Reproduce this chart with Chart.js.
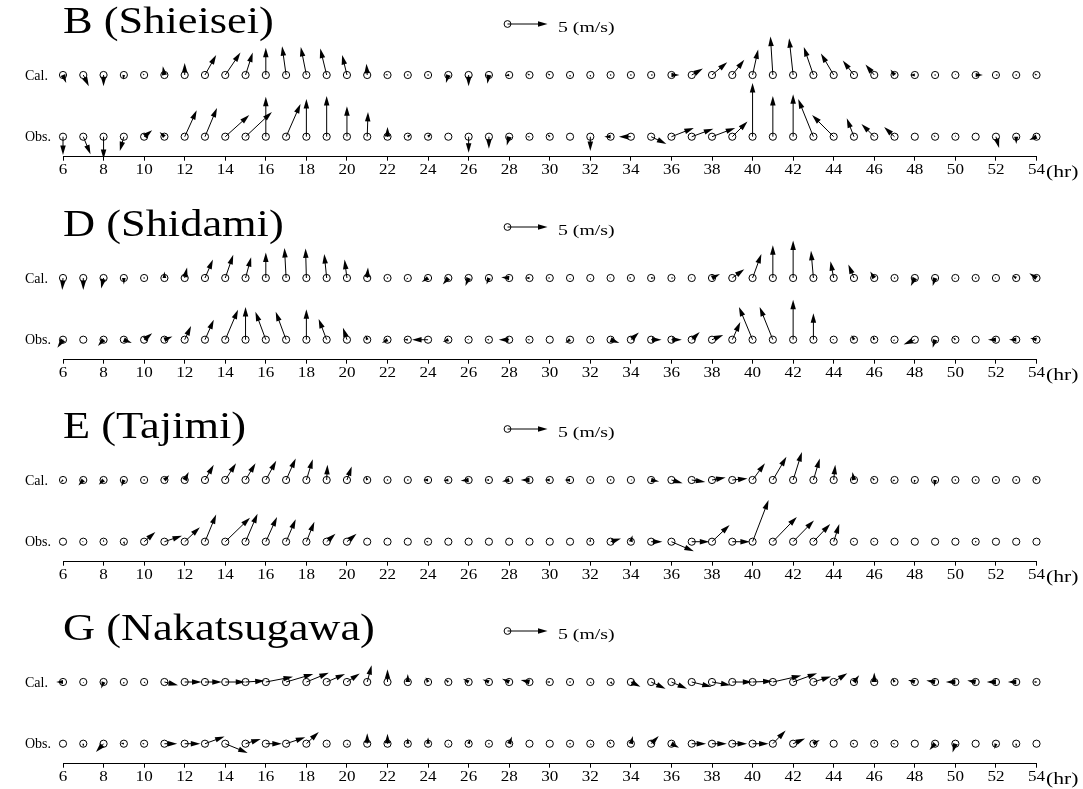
<!DOCTYPE html>
<html>
<head>
<meta charset="utf-8">
<title>Hourly wind vectors: calculated vs observed</title>
<script src="https://cdn.jsdelivr.net/npm/chart.js@4.4.1/dist/chart.umd.min.js"></script>
<style>
  html, body { margin: 0; padding: 0; background: #fff; overflow: hidden; }
  body { width: 1083px; height: 789px; position: relative; }
  canvas { position: absolute; left: 0; }
</style>
</head>
<body>
<script>
// Hours on the time axis
const hours = [6,7,8,9,10,11,12,13,14,15,16,17,18,19,20,21,22,23,24,25,26,27,28,29,30,
               31,32,33,34,35,36,37,38,39,40,41,42,43,44,45,46,47,48,49,50,51,52,53,54];
const hourTicks = [6,8,10,12,14,16,18,20,22,24,26,28,30,32,34,36,38,40,42,44,46,48,50,52,54];

// Wind components (m/s): u = eastward, v = northward
// B (Shieisei)
const bCalU = [0.4,0.7,0,-0.1,-0.2,-0.2,0,1.4,1.9,0.9,0,-0.5,-0.7,-0.8,-0.6,-0.1,-0.3,0,0.1,-0.3,0,-0.2,-0.5,-0.3,-0.3,
               0,0,0,0,0.3,1.0,1.4,1.9,1.5,0.7,-0.3,-0.5,-1.2,-1.6,-1.4,-1.1,-0.5,-0.6,0,0,0.9,0.3,0,-0.3];
const bCalV = [-1.0,-1.4,-1.4,-0.6,0.2,1.1,1.5,2.5,2.8,2.8,3.4,3.6,3.5,3.3,2.5,1.4,0.1,0.1,0.1,-1.0,-1.4,-1.1,-0.1,0.2,0.2,
               -0.3,-0.3,0.1,0.1,0,0,0.8,1.6,1.9,3.2,4.8,4.6,3.5,2.7,1.8,1.3,0.7,0,0.1,0.2,0,0,0.1,0.2];
const bObsU = [0,0.9,0,-0.5,1.0,-0.6,1.5,1.5,3.0,3.3,0,1.8,0,0,0,0.1,0,0.4,0.4,0,0,0,-0.3,-0.3,-0.3,
               0,0,-0.8,-1.5,1.9,2.8,2.7,2.9,1.9,0,0,0,-1.9,-2.7,-0.9,-1.6,-1.3,0,-0.2,0,0,0.4,0,-0.9];
const bObsV = [-2.3,-2.2,-2.8,-1.8,0.8,0.6,3.3,3.6,2.7,3.1,5.0,4.1,4.7,5.1,3.8,3.1,1.2,0.3,0.4,0,-2.0,-1.5,-1.1,0,0.3,
               0,-1.8,0,0,-0.9,1.1,1.0,1.1,1.9,6.7,5.1,5.3,4.7,2.7,2.3,1.6,1.2,0,0.2,0.2,0,-1.4,-0.9,-0.4];

// D (Shidami)
const dCalU = [-0.1,0,-0.3,0,0,0,0.3,1.0,1.0,0.7,0,-0.2,-0.1,-0.3,-0.3,0.1,0,-0.2,-0.8,-0.7,-0.4,-0.3,-1.0,-0.5,-0.3,
               0,0,-0.2,-0.3,0.4,0.3,-0.2,1.0,1.5,1.1,0,0,-0.3,-0.4,-0.7,-0.5,0,-0.5,-0.3,-0.2,0,-0.2,-0.5,-0.9];
const dCalV = [-1.5,-1.5,-1.3,-0.8,0.1,0.8,1.3,2.3,2.9,2.6,3.2,3.75,3.7,3.0,2.3,1.3,0.1,-0.2,-0.5,-0.8,-1.0,-0.8,0.1,0,0,
               -0.2,-0.2,0,0,0,0,0,0.5,1.1,3.0,4.1,4.7,3.4,2.1,1.7,0.8,0.1,-1.0,-1.0,-0.1,0.1,0,0.3,0.6];
const dObsU = [-0.7,0,-0.7,1.0,1.0,1.0,0.8,1.1,1.6,0,-1.3,-1.3,0,-1.0,-0.5,-0.2,-0.7,-0.5,-2.0,-0.7,-0.2,-0.3,-1.3,-0.3,0,
               -0.6,0.1,1.1,1.0,1.3,1.3,1.0,1.4,1.0,-1.7,-1.65,0,0,-0.2,-0.3,-0.2,-0.2,-1.4,-0.3,-0.3,0,-1.0,-0.9,-0.8];
const dObsV = [-1.0,0,-0.8,-0.4,0.8,0.4,1.7,2.5,3.75,4.1,3.5,3.5,3.8,2.6,1.5,0.6,-0.4,0,0,-0.3,0.1,0,0,0,0,
               -0.4,0.2,-0.4,0.9,0,0,0.95,0.6,2.2,4.1,4.1,5.0,3.3,0.1,0.6,0.5,-0.2,-0.6,-1.0,0.3,0,0,0,0.2];

// E (Tajimi)
const eCalU = [-0.3,-0.6,-0.6,-0.3,0,0.6,0.5,1.1,1.35,1.25,1.3,1.2,0.8,0.1,0.6,-0.2,0,0,-0.6,-0.6,-1.0,-0.4,-0.9,-1.1,-0.6,
               -0.7,0,0,0.2,1.0,1.4,1.7,1.7,1.9,1.55,1.7,1.1,0.8,0.2,-0.2,-0.3,-0.3,-0.1,-0.1,0,0,0.1,0,-0.3];
const eCalV = [-0.3,-0.7,-0.6,-0.8,0.1,0.6,1.0,1.9,2.1,2.1,2.4,2.7,2.6,1.9,1.7,0.5,0.1,0.1,0,-0.1,-0.1,0,-0.2,0,0,
               0,0.1,0.1,0,-0.2,-0.4,-0.25,0.3,0.2,2.1,2.9,3.5,2.7,1.9,1.0,0.3,-0.2,-0.4,-0.8,0.1,0.1,0,0.1,0.3];
const eObsU = [0,-0.2,0,0.1,1.4,2.2,1.9,1.4,3.1,1.5,1.4,1.2,1.0,1.1,1.2,0,0,0,-0.3,0,0,0,0,0,0,
               0,0,1.3,0.2,1.4,2.8,2.2,2.2,2.2,2.0,3.0,2.6,2.1,0.7,-0.2,-0.2,0,0,0,0,0.1,0,0,0];
const eObsV = [0,0,0.3,-0.4,1.2,0.75,1.8,3.4,3.0,3.5,3.1,2.8,2.5,1.0,1.0,0,0,0,0,0,0,0,0,0,0,
               0,0.4,0.4,0.8,0,-1.2,0,2.1,0,5.2,3.1,2.65,2.2,2.2,0.1,0.1,0,0,0,0,0.1,0,0,0];

// G (Nakatsugawa)
const gCalU = [-0.85,0,-0.3,0,0.2,1.7,2.1,2.1,2.5,2.4,3.4,3.4,2.8,2.3,1.6,0.55,0,0,-0.3,-0.4,-0.7,-0.8,-0.9,-1.1,-0.4,
               0,0.2,0.3,1.2,1.8,1.95,2.5,2.3,2.5,2.5,3.55,3.0,2.2,1.7,0.65,0,-0.3,-0.85,-1.1,-1.2,-1.05,-1.15,-1.05,-0.4];
const gCalV = [0,-0.2,-0.8,-0.3,-0.2,-0.4,0,0,0,0.15,0.65,1.0,1.15,1.0,1.05,2.1,1.6,1.0,0.6,0.3,0.4,0.3,0.4,0.25,0,
               0.1,-0.2,-0.3,-0.6,-0.85,-0.85,-0.6,-0.4,0,0.1,0.8,1.1,0.7,1.1,0.85,1.2,0.5,0.25,0.2,0,0.2,0,0,0];
const gObsU = [0,0,-0.95,-0.4,-0.3,1.6,1.95,2.45,2.8,1.9,2.0,2.4,1.55,0.2,0.2,0,0,0,0,0,0.2,0,0.35,0,0,
               0.1,0.2,-0.2,0.25,0.95,0.95,1.8,1.85,1.85,2.0,1.6,1.5,0.8,0,-0.3,0,-0.3,0,-0.7,-0.35,0,-0.2,0,0];
const gObsV = [0,-0.4,-1.05,0.1,0,0,0,0.9,-1.15,0.6,0,0.8,1.45,-0.1,-0.2,1.3,1.25,0.7,0.8,-0.2,0.6,0.1,0.9,0,0,
               -0.1,-0.2,0.3,0.95,0.95,-0.5,0,0,0,0,1.65,0.65,0.45,0,0,0.3,0,0,-0.8,-1.1,0,-0.65,-0.4,0];

const panels = [
  { title: 'B (Shieisei)',    calU: bCalU, calV: bCalV, obsU: bObsU, obsV: bObsV },
  { title: 'D (Shidami)',     calU: dCalU, calV: dCalV, obsU: dObsU, obsV: dObsV },
  { title: 'E (Tajimi)',      calU: eCalU, calV: eCalV, obsU: eObsU, obsV: eObsV },
  { title: 'G (Nakatsugawa)', calU: gCalU, calV: gCalV, obsU: gObsU, obsV: gObsV }
];

// Layout
const PANEL_TOPS = [0, 203, 405, 607];
const PANEL_H = 203;
const HOURS_PER_MS = 0.3945;   // 1 m/s of wind spans this many hours along the time axis
const HEAD_LEN = 9.5;
const SERIF = "'Liberation Serif', 'Times New Roman', serif";

function stretchedText(ctx, text, x, y, size, sx, align) {
  ctx.save();
  ctx.font = size + 'px ' + SERIF;
  ctx.fillStyle = '#000';
  ctx.textBaseline = 'alphabetic';
  ctx.textAlign = 'left';
  const w = ctx.measureText(text).width * sx;
  let left = x;
  if (align === 'center') left = x - w / 2;
  if (align === 'right') left = x - w;
  ctx.translate(left, y);
  ctx.scale(sx, 1);
  ctx.fillText(text, 0, 0);
  ctx.restore();
}

function drawArrow(ctx, x0, y0, dx, dy) {
  const len = Math.hypot(dx, dy);
  if (len === 0) return;
  ctx.save();
  ctx.strokeStyle = '#000';
  ctx.fillStyle = '#000';
  ctx.lineWidth = 1;
  if (len < 1.5) {
    ctx.beginPath();
    ctx.arc(x0, y0, 0.75, 0, Math.PI * 2);
    ctx.fill();
    ctx.restore();
    return;
  }
  const ux = dx / len, uy = dy / len;
  const hl = Math.min(HEAD_LEN, len);
  const hw = hl * 0.29;
  const x1 = x0 + dx, y1 = y0 + dy;
  const bx = x1 - ux * hl, by = y1 - uy * hl;
  if (len > hl) {
    ctx.beginPath();
    ctx.moveTo(x0, y0);
    ctx.lineTo(bx + ux, by + uy);
    ctx.stroke();
  }
  ctx.beginPath();
  ctx.moveTo(x1, y1);
  ctx.lineTo(bx - uy * hw, by + ux * hw);
  ctx.lineTo(bx + uy * hw, by - ux * hw);
  ctx.closePath();
  ctx.fill();
  ctx.restore();
}

const windPlugin = {
  id: 'windVectors',
  afterDatasetsDraw(chart) {
    const ctx = chart.ctx;
    const xs = chart.scales.x;
    const pxPerMs = xs.getPixelForValue(xs.min + HOURS_PER_MS) - xs.getPixelForValue(xs.min);
    chart.data.datasets.forEach((ds, i) => {
      const meta = chart.getDatasetMeta(i);
      meta.data.forEach((pt, j) => {
        drawArrow(ctx, pt.x, pt.y, ds.u[j] * pxPerMs, -ds.v[j] * pxPerMs);
      });
    });
  },
  afterDraw(chart, args, opts) {
    const ctx = chart.ctx;
    const xs = chart.scales.x;
    const area = chart.chartArea;
    const pxPerMs = xs.getPixelForValue(xs.min + HOURS_PER_MS) - xs.getPixelForValue(xs.min);

    // Station title
    stretchedText(ctx, opts.title, area.left, 33, 37, 1.2, 'left');

    // Reference vector: 5 m/s
    const rx = 507.5, ry = 24;
    ctx.save();
    ctx.strokeStyle = '#000';
    ctx.lineWidth = 1;
    ctx.beginPath();
    ctx.arc(rx, ry, 3.4, 0, Math.PI * 2);
    ctx.stroke();
    ctx.restore();
    drawArrow(ctx, rx, ry, 5 * pxPerMs, 0);
    stretchedText(ctx, '5 (m/s)', 558, 31.5, 15, 1.32, 'left');

    // Row labels
    chart.data.datasets.forEach((ds, i) => {
      const p = chart.getDatasetMeta(i).data[0];
      stretchedText(ctx, ds.label, 25, p.y + 4.5, 14, 1.0, 'left');
    });

    // Hour labels
    xs.ticks.forEach(t => {
      stretchedText(ctx, String(t.value), xs.getPixelForValue(t.value), area.bottom + 17.6, 14, 1.22, 'center');
    });
    stretchedText(ctx, '(hr)', area.right + 9.5, area.bottom + 20.5, 16, 1.35, 'left');
  }
};

panels.forEach((p, idx) => {
  const canvas = document.createElement('canvas');
  canvas.width = 1083;
  canvas.height = PANEL_H;
  canvas.style.top = PANEL_TOPS[idx] + 'px';
  canvas.style.width = '1083px';
  canvas.style.height = PANEL_H + 'px';
  document.body.appendChild(canvas);

  new Chart(canvas, {
    type: 'scatter',
    data: {
      datasets: [
        { label: 'Cal.', data: hours.map(h => ({ x: h, y: 1 })), u: p.calU, v: p.calV, clip: false },
        { label: 'Obs.', data: hours.map(h => ({ x: h, y: 0 })), u: p.obsU, v: p.obsV, clip: false }
      ]
    },
    options: {
      responsive: false,
      animation: false,
      devicePixelRatio: 1,
      events: [],
      layout: { padding: { left: 63, right: 46.5, top: 13.3, bottom: 16.3 } },
      elements: {
        point: { radius: 3.6, borderWidth: 1, borderColor: '#000', backgroundColor: 'rgba(255,255,255,0)', pointStyle: 'circle' }
      },
      plugins: {
        legend: { display: false },
        tooltip: { enabled: false },
        title: { display: false },
        windVectors: { title: p.title }
      },
      scales: {
        x: {
          type: 'linear',
          min: 6, max: 54,
          afterBuildTicks: s => { s.ticks = hourTicks.map(v => ({ value: v })); },
          afterFit: s => { s.height = 30; },
          ticks: { display: false },
          grid: { display: true, drawOnChartArea: false, drawTicks: true, tickLength: 4, color: '#000', lineWidth: 1 },
          border: { display: true, color: '#000', width: 1 }
        },
        y: { display: false, min: -0.324, max: 2 }
      }
    },
    plugins: [windPlugin]
  });
});
</script>
</body>
</html>
